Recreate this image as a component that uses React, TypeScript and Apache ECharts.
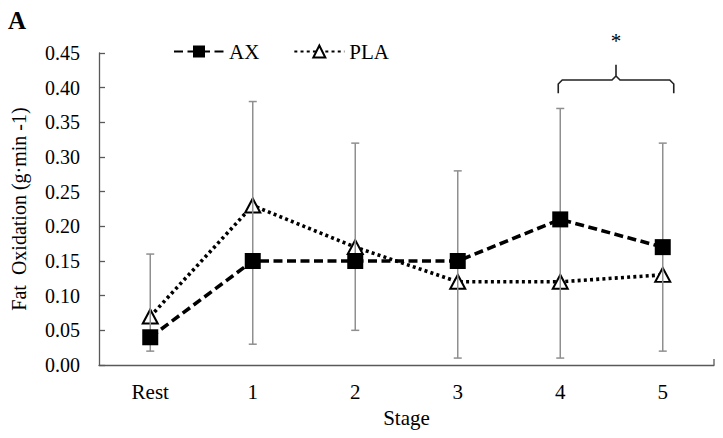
import React, { useEffect, useRef } from "react";
import * as echarts from "echarts";

const categories = ["Rest", "1", "2", "3", "4", "5"];
const axValues = [0.04, 0.15, 0.15, 0.15, 0.21, 0.17];
const plaValues = [0.07, 0.23, 0.17, 0.12, 0.12, 0.13];
const errLow = [0.02, 0.03, 0.05, 0.01, 0.01, 0.02];
const errHigh = [0.16, 0.38, 0.32, 0.28, 0.37, 0.32];
const yTicks = { min: 0, max: 0.45, interval: 0.05 };

const FONT = "'Liberation Serif', 'Times New Roman', serif";
const AXIS_COLOR = "#595959";

export default function App() {
  const ref = useRef<HTMLDivElement>(null);
  useEffect(() => {
    document.body.style.margin = "0";
    const chart = echarts.init(ref.current!, undefined, { renderer: "svg" });
    const gridLeft = 99, gridRight = 9, gridTop = 53, gridBottom = 73;
    const W = 723, H = 438;
    const errData = categories.map((_, i) => [i, errLow[i], errHigh[i]]);
    chart.setOption({
      animation: false,
      backgroundColor: "#fff",
      textStyle: { fontFamily: FONT },
      grid: { left: gridLeft, right: gridRight, top: gridTop, bottom: gridBottom },
      legend: {
        left: 168,
        top: 36,
        itemWidth: 50,
        itemHeight: 15,
        itemGap: 34,
        textStyle: { fontFamily: FONT, fontSize: 21, color: "#000" },
        data: ["AX", "PLA"],
      },
      xAxis: {
        type: "category",
        data: categories,
        name: "Stage",
        nameLocation: "middle",
        nameGap: 42,
        nameTextStyle: { fontFamily: FONT, fontSize: 21, color: "#000" },
        axisLine: { lineStyle: { color: AXIS_COLOR, width: 1.3 } },
        axisTick: { inside: true, alignWithLabel: true, length: 6, lineStyle: { color: AXIS_COLOR, width: 1.3 } },
        axisLabel: { fontFamily: FONT, fontSize: 21, color: "#000", margin: 16 },
        splitLine: { show: false },
      },
      yAxis: {
        type: "value",
        min: yTicks.min,
        max: yTicks.max,
        interval: yTicks.interval,
        name: "Fat  Oxidation (g·min -1)",
        nameLocation: "middle",
        nameGap: 70,
        nameTextStyle: { fontFamily: FONT, fontSize: 20, color: "#000" },
        axisLine: { show: true, lineStyle: { color: AXIS_COLOR, width: 1.3 } },
        axisTick: { show: true, inside: true, length: 6, lineStyle: { color: AXIS_COLOR, width: 1.3 } },
        axisLabel: {
          fontFamily: FONT,
          fontSize: 20,
          color: "#000",
          margin: 19,
          formatter: (v: number) => v.toFixed(2),
        },
        splitLine: { show: false },
      },
      series: [
        {
          type: "line",
          name: "PLA",
          z: 2,
          data: plaValues,
          symbol: "triangle",
          symbolSize: [15, 14],
          lineStyle: { color: "#000", width: 3.6, type: [3, 3.2] },
          itemStyle: { color: "#fff", borderColor: "#000", borderWidth: 2 },
        },
        {
          type: "custom",
          name: "err",
          z: 3,
          silent: true,
          data: errData,
          encode: { x: 0, y: [1, 2] },
          renderItem: (params: any, api: any) => {
            const i = api.value(0);
            const lo = api.coord([i, api.value(1)]);
            const hi = api.coord([i, api.value(2)]);
            const cap = 4;
            const style = { stroke: "#8f8f8f", lineWidth: 1.5 };
            return {
              type: "group",
              children: [
                { type: "line", shape: { x1: lo[0], y1: lo[1], x2: hi[0], y2: hi[1] }, style },
                { type: "line", shape: { x1: lo[0] - cap, y1: lo[1], x2: lo[0] + cap, y2: lo[1] }, style },
                { type: "line", shape: { x1: hi[0] - cap, y1: hi[1], x2: hi[0] + cap, y2: hi[1] }, style },
              ],
            };
          },
        },
        {
          type: "line",
          name: "AX",
          z: 4,
          data: axValues,
          symbol: "rect",
          symbolSize: 16,
          lineStyle: { color: "#000", width: 3.6, type: [9, 4.5] },
          itemStyle: { color: "#000", borderColor: "#000", borderWidth: 0 },
        },
      ],
    });

    const p4 = chart.convertToPixel({ gridIndex: 0 }, [4, 0.411]) as number[];
    const p5 = chart.convertToPixel({ gridIndex: 0 }, [5, 0.411]) as number[];
    const yEnd = chart.convertToPixel({ gridIndex: 0 }, [4, 0.392]) as number[];
    const yPeak = chart.convertToPixel({ gridIndex: 0 }, [4, 0.433]) as number[];
    const yStar = chart.convertToPixel({ gridIndex: 0 }, [4, 0.467]) as number[];
    const left = p4[0] - 2;
    const right = p5[0] + 11;
    const mid = (left + right) / 2;
    const yl = p4[1];
    const r = 4;
    const bracketStyle = { stroke: "#222", lineWidth: 1.6, fill: null };
    const axisY = H - gridBottom;
    const axisX = W - gridRight;

    chart.setOption({
      graphic: [
        {
          type: "text",
          left: 8,
          top: 8,
          style: { text: "A", fontFamily: FONT, fontSize: 25, fontWeight: "bold", fill: "#000" },
        },
        {
          type: "polyline",
          silent: true,
          shape: {
            points: [
              [left, yEnd[1]],
              [left, yl + r],
              [left + r, yl],
              [mid - r, yl],
              [mid, yl - r],
              [mid, yPeak[1]],
              [mid, yl - r],
              [mid + r, yl],
              [right - r, yl],
              [right, yl + r],
              [right, yEnd[1]],
            ],
            smooth: 0,
          },
          style: bracketStyle,
        },
        {
          type: "text",
          x: mid,
          y: yStar[1],
          style: { text: "*", fontFamily: FONT, fontSize: 21, fill: "#000", align: "center", verticalAlign: "middle" },
        },
        {
          type: "line",
          silent: true,
          shape: { x1: axisX, y1: axisY, x2: axisX, y2: axisY - 6 },
          style: { stroke: AXIS_COLOR, lineWidth: 1.3 },
        },
      ],
    });

    return () => chart.dispose();
  }, []);
  return <div ref={ref} style={{ width: 723, height: 438 }} />;
}
